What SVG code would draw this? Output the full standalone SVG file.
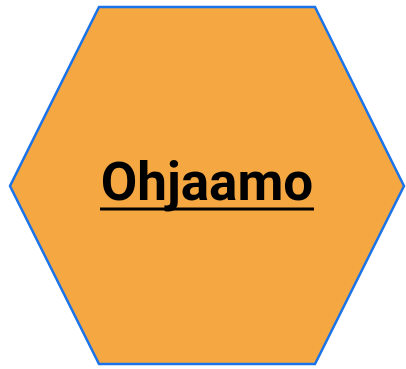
<svg xmlns="http://www.w3.org/2000/svg" width="406" height="369" viewBox="0 0 406 369">
<style>
.hex{fill:#F5A742;stroke:#1A73E8;stroke-width:2.5}
.lbl{font-family:Roboto,"Liberation Sans",sans-serif;font-weight:bold;font-size:53px;fill:#000}
.ul{fill:#000}
</style>
<g id="node-ohjaamo">
<polygon class="hex" points="99,7 315,7 404,186 315,364 99,364 10,186"/>
<text class="lbl" x="207" y="200" text-anchor="middle">Ohjaamo</text>
<rect class="ul" x="100" y="207.5" width="214" height="3"/>
</g>
<g id="connectors"/>
</svg>
